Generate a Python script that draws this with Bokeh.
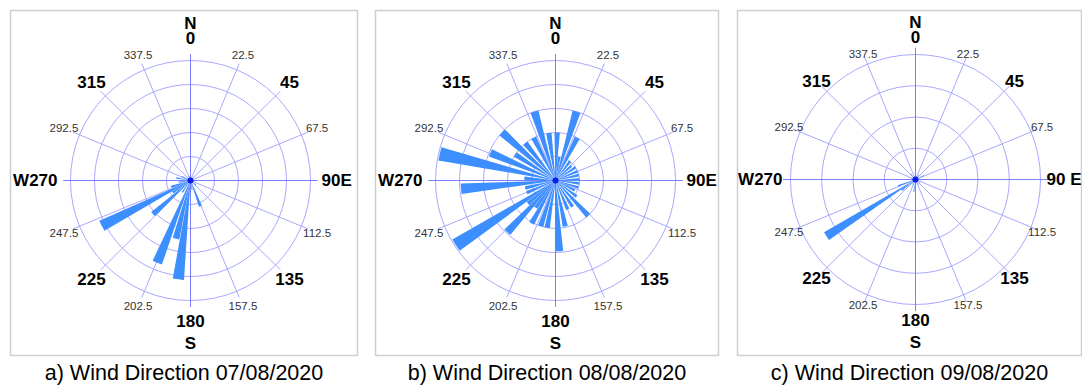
import numpy as np
from bokeh.plotting import figure
from bokeh.layouts import row
from bokeh.models import Range1d, Title
from bokeh.core.properties import value
from bokeh.embed import file_html
from bokeh.resources import INLINE

# ---------------- data (direction in degrees from North, clockwise; frequency) -------------
dirs_a = [5, 30, 60, 100, 130, 159, 170, 187, 194, 202, 215, 228, 236, 243, 252, 262, 280, 295, 320, 345]
freq_a = [1.0, 0.75, 0.75, 1.0, 1.5, 5.75, 2.0, 20.75, 12.5, 18.5, 3.0, 10.5, 4.5, 20.75, 4.25, 2.5, 3.0, 2.0, 1.0, 1.0]

dirs_b = [2, 9, 17, 27, 37, 47, 57, 67, 77, 87, 97, 107, 117, 127, 137, 147, 157, 168, 177,
          190, 198, 209, 216, 223, 230, 237, 247, 256, 265, 274, 283, 293, 303, 312, 321, 333, 343, 352]
freq_b = [8.0, 4.0, 12.0, 8.0, 4.0, 3.6, 4.0, 4.0, 4.0, 4.0, 4.0, 4.0, 3.6, 4.4, 8.0, 5.2, 5.2, 7.8, 11.8,
          8.0, 8.0, 8.2, 5.6, 11.8, 6.0, 19.8, 5.2, 5.2, 15.8, 5.2, 19.8, 11.8, 8.0, 12.0, 8.0, 8.0, 12.0, 8.0]

dirs_c = [0, 35, 65, 95, 125, 150, 188, 215, 232, 237.5, 250, 285, 320]
freq_c = [2.5, 2.0, 3.0, 2.0, 2.0, 2.0, 4.0, 2.0, 5.7, 33.8, 6.0, 1.5, 2.5]

major_angles = [0, 45, 90, 135, 180, 225, 270, 315]
major_labels = ["0", "45", "90", "135", "180", "225", "270", "315"]
minor_angles = [22.5, 67.5, 112.5, 157.5, 202.5, 247.5, 292.5, 337.5]
minor_labels = ["22.5", "67.5", "112.5", "157.5", "202.5", "247.5", "292.5", "337.5"]

captions = ["a) Wind Direction 07/08/2020",
            "b) Wind Direction 08/08/2020",
            "c) Wind Direction 09/08/2020"]

FONT = "Liberation Sans"
BAR = "#3d8eff"
GRID = "#a8a8ff"
AXIS = "#7c7cff"

H = 388
TOP = 10
FRAME_H = 347
BOTTOM = H - TOP - FRAME_H


def panel(dirs, freq, step, n_rings, wdeg, fig_w, bl, br, frame_w, cx, cy, outer_px,
          caption, east_text, cap_offset):
    u = n_rings * step / outer_px          # data units per pixel
    p = figure(width=fig_w, height=H, output_backend="svg", toolbar_location=None,
               x_range=Range1d(-cx * u, (frame_w - cx) * u),
               y_range=Range1d(-(FRAME_H - cy) * u, cy * u),
               min_border_left=bl, min_border_right=br,
               min_border_top=TOP, min_border_bottom=BOTTOM,
               x_axis_type=None, y_axis_type=None)
    p.outline_line_color = "#cfcfcf"
    p.outline_line_width = 1.5
    p.background_fill_color = "white"
    p.border_fill_color = "white"

    # rings
    rings = [step * (i + 1) for i in range(n_rings)]
    p.circle(x=0, y=0, radius=rings, fill_color=None, line_color=GRID, line_width=1)

    # spokes
    spoke_angles = np.arange(16) * 22.5
    L = rings[-1] * 1.06
    th = np.radians(spoke_angles)
    cols = [AXIS if a % 90 == 0 else GRID for a in spoke_angles]
    p.segment(x0=0, y0=0, x1=L * np.sin(th), y1=L * np.cos(th), line_color=cols, line_width=1)

    # bars (wedges)
    d = np.array(dirs, dtype=float)
    m = 90.0 - d
    p.wedge(x=0, y=0, radius=freq,
            start_angle=np.radians(m - wdeg / 2), end_angle=np.radians(m + wdeg / 2),
            fill_color=BAR, line_color=None)
    p.scatter(x=[0], y=[0], size=6, fill_color="#0a1ee6", line_color=None)

    # major labels
    bold = dict(text_font=value(FONT), text_font_size="17px", text_font_style="bold",
                text_color="black", text_baseline="middle")
    diag = [a for a in major_angles if a % 90 != 0]
    dl = [major_labels[major_angles.index(a)] for a in diag]
    r = 140 * u
    p.text(x=r * np.sin(np.radians(diag)), y=r * np.cos(np.radians(diag)), text=dl,
           text_align="center", **bold)
    p.text(x=[0, 0], y=[143 * u, 158 * u], text=[major_labels[0], "N"], text_align="center", **bold)
    p.text(x=[0, 0], y=[-141 * u, -164 * u], text=[major_labels[4], "S"], text_align="center", **bold)
    p.text(x=[-133 * u], y=[0], text=["W" + major_labels[6]], text_align="right", **bold)
    p.text(x=[131 * u], y=[0], text=[east_text], text_align="left", **bold)

    # minor labels
    rm = 137 * u
    p.text(x=rm * np.sin(np.radians(minor_angles)), y=rm * np.cos(np.radians(minor_angles)),
           text=minor_labels, text_align="center", text_baseline="middle",
           text_font=value(FONT), text_font_size="11.5px", text_color="#333333")

    t = Title(text=caption, align="center", text_font=FONT, text_font_size="21.5px",
              text_font_style="normal", text_color="black", offset=cap_offset, standoff=7)
    p.add_layout(t, "below")
    return p


pa = panel(dirs_a, freq_a, 5, 5, 6.5, 366, 10, 9, 347, 180, 171, 120, captions[0],
           major_labels[2] + "E", -1)
pb = panel(dirs_b, freq_b, 4, 5, 6.5, 362, 9, 10, 343, 180, 171, 120, captions[1],
           major_labels[2] + "E", 3)
pc = panel(dirs_c, freq_c, 10, 4, 5, 354, 9, 1, 344, 178, 170, 125, captions[2],
           major_labels[2] + " E", 9)

layout = row(pa, pb, pc)
open("out.html", "w").write(file_html(layout, INLINE))
